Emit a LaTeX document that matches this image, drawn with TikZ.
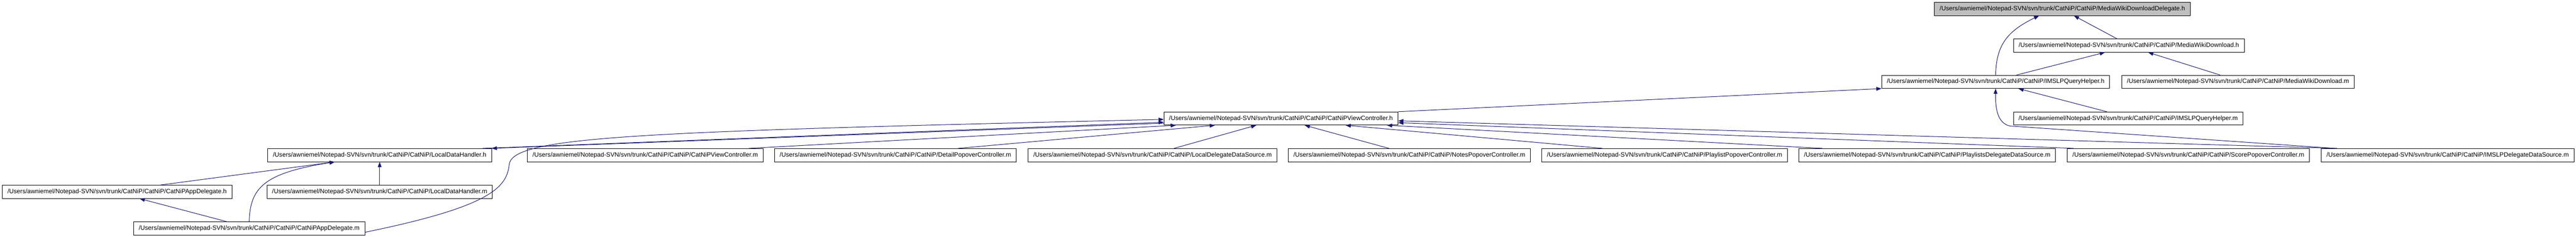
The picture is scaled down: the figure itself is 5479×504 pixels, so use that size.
\documentclass[tikz,border=0pt]{standalone}
\usepackage{fontspec}
\setmainfont{Liberation Sans}
\usetikzlibrary{arrows.meta}
\definecolor{edgeblue}{HTML}{191970}
\definecolor{topgray}{HTML}{BFBFBF}
\begin{document}
\begin{tikzpicture}[x=1pt,y=-1pt,>={Triangle[length=11pt,width=8pt]},
	filenode/.style={draw=black,fill=white,line width=0.9pt,inner xsep=11pt,inner ysep=0pt,minimum height=28pt,font=\fontsize{13.3}{16}\selectfont},
	dep/.style={->,draw=edgeblue,color=edgeblue,line width=1.1pt}]
	\useasboundingbox (0,0) rectangle (5479,504);
	\node[filenode,fill=topgray](MWDD) at (4386.5,19) {/Users/awniemel/Notepad-SVN/svn/trunk/CatNiP/CatNiP/MediaWikiDownloadDelegate.h};
	\node[filenode](MWD) at (4528,97) {/Users/awniemel/Notepad-SVN/svn/trunk/CatNiP/CatNiP/MediaWikiDownload.h};
	\node[filenode](IQH) at (4244.5,174) {/Users/awniemel/Notepad-SVN/svn/trunk/CatNiP/CatNiP/IMSLPQueryHelper.h};
	\node[filenode](MWDm) at (4760,174) {/Users/awniemel/Notepad-SVN/svn/trunk/CatNiP/CatNiP/MediaWikiDownload.m};
	\node[filenode](CVC) at (2724.5,252) {/Users/awniemel/Notepad-SVN/svn/trunk/CatNiP/CatNiP/CatNiPViewController.h};
	\node[filenode](IQHm) at (4526.5,252) {/Users/awniemel/Notepad-SVN/svn/trunk/CatNiP/CatNiP/IMSLPQueryHelper.m};
	\node[filenode](LDH) at (807.5,330) {/Users/awniemel/Notepad-SVN/svn/trunk/CatNiP/CatNiP/LocalDataHandler.h};
	\node[filenode](CVCm) at (1372.5,330) {/Users/awniemel/Notepad-SVN/svn/trunk/CatNiP/CatNiP/CatNiPViewController.m};
	\node[filenode](DPC) at (1904.5,330) {/Users/awniemel/Notepad-SVN/svn/trunk/CatNiP/CatNiP/DetailPopoverController.m};
	\node[filenode](LDDS) at (2451.5,330) {/Users/awniemel/Notepad-SVN/svn/trunk/CatNiP/CatNiP/LocalDelegateDataSource.m};
	\node[filenode](NPC) at (2997.5,330) {/Users/awniemel/Notepad-SVN/svn/trunk/CatNiP/CatNiP/NotesPopoverController.m};
	\node[filenode](PPC) at (3540.5,330) {/Users/awniemel/Notepad-SVN/svn/trunk/CatNiP/CatNiP/PlaylistPopoverController.m};
	\node[filenode](PDDS) at (4099,330) {/Users/awniemel/Notepad-SVN/svn/trunk/CatNiP/CatNiP/PlaylistsDelegateDataSource.m};
	\node[filenode](SPC) at (4654.5,330) {/Users/awniemel/Notepad-SVN/svn/trunk/CatNiP/CatNiP/ScorePopoverController.m};
	\node[filenode](IDDS) at (5206,330) {/Users/awniemel/Notepad-SVN/svn/trunk/CatNiP/CatNiP/IMSLPDelegateDataSource.m};
	\node[filenode](CAD) at (249,408) {/Users/awniemel/Notepad-SVN/svn/trunk/CatNiP/CatNiP/CatNiPAppDelegate.h};
	\node[filenode](LDHm) at (807.5,408) {/Users/awniemel/Notepad-SVN/svn/trunk/CatNiP/CatNiP/LocalDataHandler.m};
	\node[filenode](CADm) at (530,486) {/Users/awniemel/Notepad-SVN/svn/trunk/CatNiP/CatNiP/CatNiPAppDelegate.m};
	\draw[dep]([xshift=-25pt]MWD.north)--([xshift=24.5pt]MWDD.south);
	\draw[dep](IQH.north) .. controls (4246,100) and (4265,68) .. ([xshift=-49.5pt]MWDD.south);
	\draw[dep]([xshift=44.5pt]IQH.north)--([xshift=-51pt]MWD.south);
	\draw[dep]([xshift=-38pt]MWDm.north)--([xshift=41pt]MWD.south);
	\draw[dep]([xshift=-45.5pt]IQHm.north)--([xshift=48.5pt]IQH.south);
	\draw[dep]([xshift=-240pt]IDDS.north)--(4275,268) .. controls (4248,262) and (4244,230) .. (IQH.south);
	\draw[dep](CVC.north east)--(IQH.south west);
	\draw[dep]([xshift=220.5pt]CVCm.north)--([xshift=-223.5pt]CVC.south);
	\draw[dep]([xshift=133.5pt]DPC.north)--([xshift=-140.5pt]CVC.south);
	\draw[dep]([xshift=45.5pt]LDDS.north)--([xshift=-52.5pt]CVC.south);
	\draw[dep]([xshift=-43.5pt]NPC.north)--([xshift=50.5pt]CVC.south);
	\draw[dep]([xshift=-132.5pt]PPC.north)--([xshift=137.5pt]CVC.south);
	\draw[dep]([xshift=-223pt]PDDS.north)--([xshift=225.5pt]CVC.south);
	\draw[dep]([xshift=-244.5pt]SPC.north)--([yshift=-9pt]CVC.east);
	\draw[dep]([xshift=-235pt]IDDS.north)--([yshift=-5pt]CVC.east);
	\draw[dep]([xshift=219.5pt]LDH.north)--([yshift=-8pt]CVC.west);
	\draw[dep]([yshift=-10pt]CVC.west)--(LDH.north east);
	\draw[dep]([yshift=-8pt]CADm.east) .. controls (1040,440) and (1078,400) .. (1083,350) .. controls (1090,290) and (1350,280) .. ([yshift=-2pt]CVC.west);
	\draw[dep]([xshift=92pt]CAD.north)--([xshift=-95.5pt]LDH.south);
	\draw[dep](CADm.north) .. controls (532,400) and (560,368) .. ([xshift=-95.5pt]LDH.south);
	\draw[dep](LDHm.north)--(LDH.south);
	\draw[dep]([xshift=-47pt]CADm.north)--([xshift=48pt]CAD.south);
\end{tikzpicture}
\end{document}
